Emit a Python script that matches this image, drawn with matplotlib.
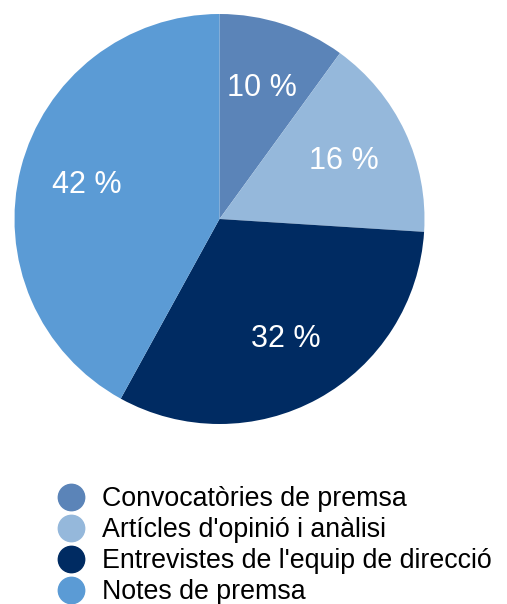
import matplotlib.pyplot as plt
from matplotlib.lines import Line2D

plt.rcParams['font.family'] = ['Liberation Sans', 'DejaVu Sans']

labels = ["Convocatòries de premsa", "Artícles d'opinió i anàlisi",
          "Entrevistes de l'equip de direcció", "Notes de premsa"]
shares = [10, 16, 32, 42]
colors = ['#5b84b8', '#95b8db', '#002b62', '#5b9bd5']

W, H = 507, 604
fig = plt.figure(figsize=(W / 100, H / 100), dpi=100)

# pie placed in pixel terms: centre (219.5, 219), radius 205
cx, cy, r = 219.5, 219, 205
ax = fig.add_axes([(cx - r) / W, (H - cy - r) / H, 2 * r / W, 2 * r / H])
wedges, texts, autotexts = ax.pie(
    shares, colors=colors, startangle=90, counterclock=False,
    autopct=lambda p: f'{p:.0f} %', pctdistance=0.67,
    wedgeprops=dict(linewidth=0),
    textprops=dict(color='white', fontsize=22))
ax.set_xlim(-1, 1)
ax.set_ylim(-1, 1)
ax.set_aspect('equal')

handles = [Line2D([], [], marker='o', linestyle='none', markersize=19,
                  markerfacecolor=c, markeredgecolor=c) for c in colors]
fig.legend(handles, labels, loc='upper left', bbox_to_anchor=(58 / W, 1 - 486 / H),
           frameon=False, fontsize=19.3, labelspacing=0.19, handletextpad=0.65,
           handlelength=1.0, borderpad=0, borderaxespad=0)

fig.savefig('out.png', dpi=100)
